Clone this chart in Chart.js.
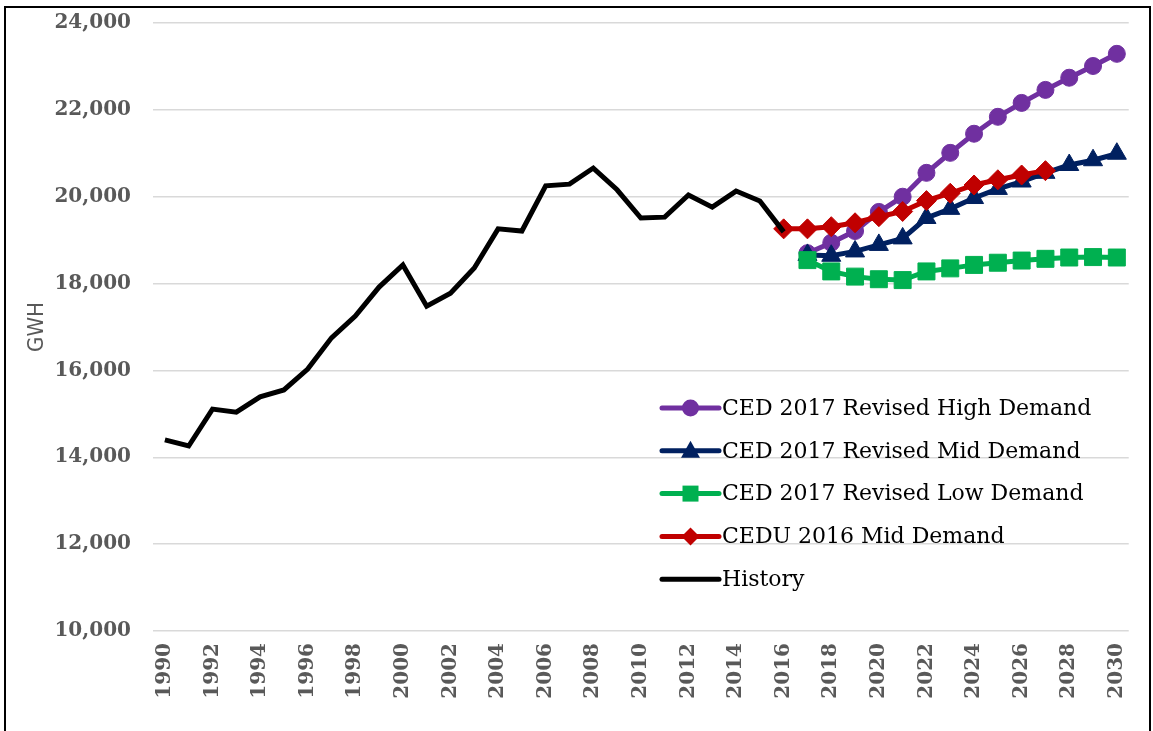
<!DOCTYPE html>
<html>
<head>
<meta charset="utf-8">
<script src="https://cdn.jsdelivr.net/npm/chart.js@4/dist/chart.umd.min.js"></script>
<style>
  html, body { margin: 0; padding: 0; background: #fff; }
  canvas { display: block; }
</style>
</head>
<body>
<canvas id="salesChart" width="1153" height="731"></canvas>
<script>
const years = [
  '1990', '1991', '1992', '1993', '1994', '1995', '1996', '1997', '1998', '1999',
  '2000', '2001', '2002', '2003', '2004', '2005', '2006', '2007', '2008', '2009',
  '2010', '2011', '2012', '2013', '2014', '2015', '2016', '2017', '2018', '2019',
  '2020', '2021', '2022', '2023', '2024', '2025', '2026', '2027', '2028', '2029', '2030'
];

// GWH, history runs 1990-2016
const history = [
  14400, 14260, 15110, 15040, 15390, 15550, 16030, 16750, 17250, 17920,
  18430, 17480, 17780, 18360, 19260, 19210, 20250, 20290, 20660, 20160,
  19510, 19530, 20040, 19760, 20130, 19900, 19190
];

// CEDU 2016 mid case, 2016-2027
const cedu2016Mid = [
  19260, 19260, 19310, 19400, 19540, 19660, 19910, 20080, 20270, 20390, 20500, 20600
];

// CED 2017 revised cases, 2017-2030
const ced2017High = [
  18700, 18940, 19210, 19650, 20000, 20550, 21010, 21450, 21840, 22160, 22460, 22740, 23010, 23290
];
const ced2017Mid = [
  18660, 18640, 18740, 18890, 19040, 19510, 19720, 19970, 20180, 20350, 20550, 20730, 20840, 20990
];
const ced2017Low = [
  18540, 18280, 18160, 18100, 18080, 18280, 18350, 18430, 18480, 18530, 18570, 18600, 18610, 18600
];

const yTicks = { min: 10000, max: 24000, step: 2000 };

// place a series on the year axis, blank before its first year and after its last
function alignTo(firstYear, values) {
  const start = years.indexOf(firstYear);
  return years.map((_, i) => (i >= start && i < start + values.length) ? values[i - start] : null);
}

const tickColor = '#595959';
const tickFont = { family: "'DejaVu Serif', serif", weight: 'bold', size: 20 };

const series = [
  { label: 'CED 2017 Revised High Demand', data: alignTo('2017', ced2017High), color: '#7030A0', pointStyle: 'circle', radius: 8.5, order: 4 },
  { label: 'CED 2017 Revised Mid Demand', data: alignTo('2017', ced2017Mid), color: '#002060', pointStyle: 'triangle', radius: 11, order: 3 },
  { label: 'CED 2017 Revised Low Demand', data: alignTo('2017', ced2017Low), color: '#00B050', pointStyle: 'rect', radius: 12, order: 2 },
  { label: 'CEDU 2016 Mid Demand', data: alignTo('2016', cedu2016Mid), color: '#C00000', pointStyle: 'rectRot', radius: 10, order: 1 },
  { label: 'History', data: alignTo('1990', history), color: '#000000', pointStyle: false, radius: 0, order: 0 }
];

// small marker shapes for the legend rows
function drawMarker(ctx, style, x, y) {
  ctx.beginPath();
  if (style === 'circle') {
    ctx.arc(x, y, 8.5, 0, Math.PI * 2);
  } else if (style === 'triangle') {
    ctx.moveTo(x, y - 10);
    ctx.lineTo(x + 9.5, y + 7);
    ctx.lineTo(x - 9.5, y + 7);
    ctx.closePath();
  } else if (style === 'rect') {
    ctx.rect(x - 8, y - 8, 16, 16);
  } else if (style === 'rectRot') {
    ctx.moveTo(x, y - 9);
    ctx.lineTo(x + 9, y);
    ctx.lineTo(x, y + 9);
    ctx.lineTo(x - 9, y);
    ctx.closePath();
  } else {
    return;
  }
  ctx.fill();
}

const frameAndLegend = {
  id: 'frameAndLegend',
  afterDraw(chart) {
    const ctx = chart.ctx;
    ctx.save();

    // outer box around the figure
    ctx.strokeStyle = '#000';
    ctx.lineWidth = 2;
    ctx.beginPath();
    ctx.moveTo(5, chart.height);
    ctx.lineTo(5, 7);
    ctx.lineTo(1150, 7);
    ctx.lineTo(1150, chart.height);
    ctx.stroke();

    // legend inside the plot, line + marker per series
    const x0 = 662, x1 = 719, textX = 722, top = 408, rowGap = 42.8;
    ctx.font = "22px 'DejaVu Serif', serif";
    ctx.textBaseline = 'middle';
    ctx.textAlign = 'left';
    series.forEach((s, i) => {
      const y = top + i * rowGap;
      ctx.strokeStyle = s.color;
      ctx.fillStyle = s.color;
      ctx.lineWidth = 5;
      ctx.lineCap = 'round';
      ctx.beginPath();
      ctx.moveTo(x0, y);
      ctx.lineTo(x1, y);
      ctx.stroke();
      drawMarker(ctx, s.pointStyle, (x0 + x1) / 2, y);
      ctx.fillStyle = '#000';
      ctx.fillText(s.label, textX, y + 1);
    });
    ctx.restore();
  }
};

new Chart(document.getElementById('salesChart'), {
  type: 'line',
  data: {
    labels: years,
    datasets: series.map(s => ({
      label: s.label,
      data: s.data,
      borderColor: s.color,
      backgroundColor: s.color,
      borderWidth: 5,
      pointStyle: s.pointStyle,
      pointRadius: s.radius,
      pointBorderWidth: 1,
      pointBorderColor: s.color,
      pointBackgroundColor: s.color,
      tension: 0,
      spanGaps: false,
      order: s.order
    }))
  },
  options: {
    responsive: false,
    animation: false,
    layout: { autoPadding: false, padding: { top: 23, right: 13, left: 0, bottom: 0 } },
    plugins: {
      legend: { display: false },
      tooltip: { enabled: false }
    },
    scales: {
      x: {
        offset: true,
        grid: { display: false, drawTicks: false },
        border: { display: false },
        ticks: {
          autoSkip: false,
          minRotation: 90,
          maxRotation: 90,
          padding: 12,
          color: tickColor,
          font: tickFont,
          callback: function (value, index) {
            return index % 2 === 0 ? this.getLabelForValue(value) : null;
          }
        },
        afterFit: scale => { scale.height = 100; }
      },
      y: {
        min: yTicks.min,
        max: yTicks.max,
        // invisible tick marks keep the labels clear of the plot
        grid: { color: '#D9D9D9', lineWidth: 1.5, drawTicks: true, tickLength: 21, tickColor: 'rgba(0,0,0,0)' },
        border: { display: false },
        ticks: {
          stepSize: yTicks.step,
          padding: 1,
          color: tickColor,
          font: tickFont,
          callback: v => v.toLocaleString('en-US')
        },
        title: {
          display: true,
          text: 'GWH',
          color: tickColor,
          font: { family: "'Liberation Sans Narrow', 'DejaVu Sans Condensed', sans-serif", size: 22 },
          padding: { top: 24, bottom: 0 }
        },
        afterFit: scale => { scale.width = 153; }
      }
    }
  },
  plugins: [frameAndLegend]
});
</script>
</body>
</html>
